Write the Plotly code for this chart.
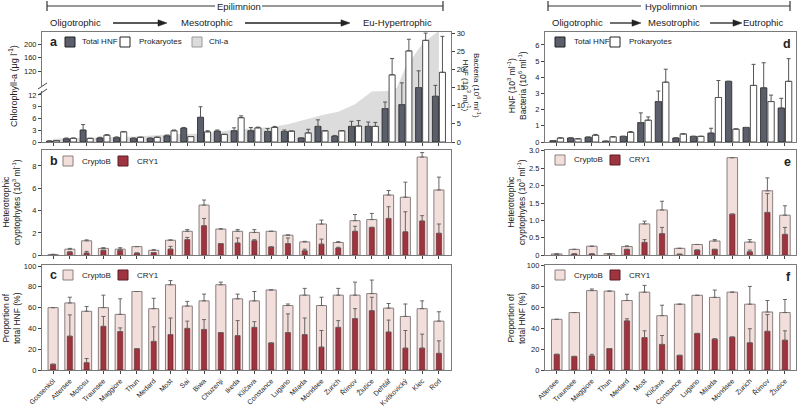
import plotly.graph_objects as go

W, H = 799, 407
def px(x): return x / W
def py(y): return 1 - y / H

FONT = "Liberation Sans, Arial, sans-serif"
FRAME = "#7a7a7a"
TICKC = "#444"

# ---------------- data ----------------
epi_lakes = ["Gossenköl", "Attersee", "Motosu", "Traunsee", "Maggiore", "Thun", "Medard", "Most",
             "Sai", "Biwa", "Chuzenji", "Ikeda", "Klíčava", "Constance", "Lugano", "Milada",
             "Mondsee", "Zurich", "Římov", "Žlutice", "Dehtář", "Kvítkovický", "Klec", "Rod"]
hypo_lakes = ["Attersee", "Traunsee", "Maggiore", "Thun", "Medard", "Most", "Klíčava", "Constance",
              "Lugano", "Milada", "Mondsee", "Zurich", "Římov", "Žlutice"]

# panel a (HNF 10^3/ml, prokaryotes 10^6/ml, chl-a ug/l)
hnf_epi = [0.25, 0.9, 3.3, 1.1, 1.2, 1.0, 1.0, 1.7, 3.8, 6.8, 3.0, 3.1, 3.1, 2.9, 2.9, 1.1,
           4.3, 1.6, 4.3, 4.3, 9.2, 10.3, 15.0, 12.6]
hnf_epi_sd = [None, 0.2, 1.5, 0.2, 0.2, 0.1, 0.1, 0.2, 0.2, 2.9, 0.3, 0.8, 0.9, 0.8, 0.4, None,
              1.8, 0.2, 1.4, 1.2, 1.8, 6.0, 4.6, 3.0]
prok_epi = [0.4, 1.0, 1.0, 1.9, 2.8, 1.3, 1.3, 3.1, 1.5, 2.8, 2.1, 6.7, 3.9, 4.0, 3.0, 2.5,
            3.1, 3.1, 4.4, 4.3, 18.5, 25.1, 28.0, 19.2]
prok_epi_sd = [None, 0.1, None, 0.1, 0.1, None, None, 0.2, None, 0.3, None, 0.5, 0.2, 0.3, None, 1.0,
               None, None, 1.5, 1.1, 4.5, 3.2, 2.0, 9.9]
chla_epi = [0.85, 1.0, 1.1, 1.2, 1.3, 1.4, 1.7, 2.0, 2.05, 2.2, 2.7, 3.2, 3.5, 3.8, 4.5, 5.6,
            6.8, 7.7, 9.6, 12.9, 13.0, 130, 200, 240]
chla_low_ticks = [0, 3, 6, 9, 12]
chla_high_ticks = [120, 160, 200]
bact_ticks = [0, 5, 10, 15, 20, 25, 30]

# panel b (10^3/ml)
cryb_epi = [0.08, 0.55, 1.3, 0.62, 0.55, 0.78, 0.45, 1.35, 2.15, 4.5, 2.35, 2.15, 2.05, 2.15, 1.8, 1.2,
            2.8, 1.15, 3.1, 3.2, 5.4, 5.2, 8.8, 5.85]
cryb_epi_sd = [None, 0.07, 0.08, 0.06, 0.13, None, 0.05, 0.03, 0.15, 0.45, 0.03, 0.15, 0.25, None, 0.02, 0.05,
               0.35, 0.07, 0.55, 0.55, 0.4, 1.35, 0.4, 1.15]
cry1_epi = [0.02, 0.3, 0.2, 0.45, 0.45, 0.2, 0.25, 0.55, 1.4, 2.65, 1.05, 1.1, 1.3, 0.75, 1.05, 0.4,
            1.0, 0.65, 2.15, 2.5, 3.3, 2.1, 3.07, 1.97]
cry1_epi_sd = [None, None, 0.15, None, None, None, None, 0.25, 0.2, 0.65, None, 0.45, 0.1, None, 0.5, 0.15,
               0.45, 0.07, 0.45, None, 1.05, 1.8, 0.48, 0.83]
b_ticks = [0, 2, 4, 6, 8]

# panel c (% of total HNF)
crybp_epi = [60, 64.5, 56.5, 60, 53.5, 75.5, 59, 82, 61.5, 66.5, 82, 68.5, 66.5, 77, 62, 72,
             62, 72, 72, 73.5, 59.5, 51.5, 59, 47]
crybp_epi_sd = [None, 5.5, 4.5, 12, 15, None, 10, 4, 4.5, 6.5, 2.5, 4.5, 9, None, 1.5, 6.5,
                8, 6.5, 12.5, 13, 4.5, 12, 7.5, 9]
cry1p_epi = [5.5, 32.5, 7, 42, 37, 20.5, 27.5, 34, 40, 39, 36, 33, 41, 26, 36, 34,
             22, 41, 49.5, 57, 36.5, 21, 21, 16]
cry1p_epi_sd = [None, 20.5, 4, 9.5, 3.5, None, 14, 16, 7, 9.5, None, 14.5, 5.5, None, 18, 16,
                16, 6.5, 9.5, 13, 11.5, 17, 13.5, 12]
pct_ticks = [0, 20, 40, 60, 80, 100]

# panel d
hnf_hyp = [0.08, 0.25, 0.3, 0.05, 0.35, 1.2, 2.5, 0.25, 0.35, 0.55, 3.75, 0.9, 3.35, 2.1]
hnf_hyp_sd = [None, None, None, None, None, 0.6, 0.65, None, None, 0.3, None, None, 1.55, 0.6]
prok_hyp = [0.25, 0.2, 0.42, 0.32, 0.6, 1.35, 3.7, 0.5, 0.35, 2.75, 0.8, 3.5, 2.5, 3.75]
prok_hyp_sd = [None, None, 0.05, None, 0.05, 0.2, 0.8, None, None, 1.05, None, 1.3, 0.4, 1.4]
d_ticks = [0, 1, 2, 3, 4, 5, 6]

# panel e
cryb_hyp = [0.04, 0.17, 0.26, 0.05, 0.25, 0.9, 1.3, 0.2, 0.31, 0.41, 2.8, 0.38, 1.85, 1.15]
cryb_hyp_sd = [None, None, None, None, 0.02, 0.08, 0.25, None, None, 0.04, None, 0.07, 0.37, 0.27]
cry1_hyp = [0.01, 0.04, 0.04, 0.01, 0.17, 0.37, 0.62, 0.03, 0.15, 0.17, 1.18, 0.1, 1.23, 0.6]
cry1_hyp_sd = [None, None, None, None, None, 0.08, 0.18, None, None, None, None, 0.05, 0.54, 0.2]
e_ticks = [0, 0.5, 1.0, 1.5, 2.0, 2.5, 3.0]
e_ticklabels = ["0", "0.5", "1.0", "1.5", "2.0", "2.5", "3.0"]

# panel f
crybp_hyp = [48.5, 55, 76, 75.5, 66.5, 74.5, 52, 63, 71.5, 69.5, 74.5, 63, 55.5, 55]
crybp_hyp_sd = [None, None, 1.5, None, 6, 6.5, 10, None, None, 7, None, 17, 11, 12.5]
cry1p_hyp = [15, 13, 13.5, 20.5, 47, 31, 24.5, 14, 35, 29.5, 31.5, 26, 37, 28.5]
cry1p_hyp_sd = [None, None, 1.5, None, 2, 6.5, 8.5, None, None, 0.5, None, 13.5, 16, 9]

# ---------------- styles ----------------
C_HNF = "#5b5f6b"
C_PROK = "#ffffff"
C_CHL = "#dcdcdc"
C_CRYB = "#f2dfdc"
C_CRY1 = "#9e3440"

def err(sd, color="#555"):
    return dict(type="data", symmetric=False, array=sd, arrayminus=[0] * len(sd),
                color=color, thickness=1, width=2)

fig = go.Figure()

# ---- panel a ----
fig.add_trace(go.Scatter(x=epi_lakes, y=chla_epi, xaxis="x", yaxis="y", mode="lines",
                         line=dict(width=0, color=C_CHL), fill="tozeroy", fillcolor=C_CHL,
                         showlegend=False, hoverinfo="skip"))
fig.add_trace(go.Scatter(x=epi_lakes, y=chla_epi, xaxis="x", yaxis="y2", mode="lines",
                         line=dict(width=0, color=C_CHL), fill="tozeroy", fillcolor=C_CHL,
                         showlegend=False, hoverinfo="skip"))
fig.add_trace(go.Bar(x=epi_lakes, y=hnf_epi, xaxis="x", yaxis="y3", offset=-0.39, width=0.36,
                     marker=dict(color=C_HNF, line=dict(color="#222", width=0.8)),
                     error_y=err(hnf_epi_sd), showlegend=False))
fig.add_trace(go.Bar(x=epi_lakes, y=prok_epi, xaxis="x", yaxis="y3", offset=0.03, width=0.36,
                     marker=dict(color=C_PROK, line=dict(color="#222", width=0.8)),
                     error_y=err(prok_epi_sd), showlegend=False))

# ---- panels b, c, e, f ----
def crypto(xn, yn, cats, cb, cb_sd, c1, c1_sd):
    fig.add_trace(go.Bar(x=cats, y=cb, xaxis=xn, yaxis=yn, width=0.6,
                         marker=dict(color=C_CRYB, line=dict(color="#8a7f7f", width=1)),
                         error_y=err(cb_sd, "#666"), showlegend=False))
    fig.add_trace(go.Bar(x=cats, y=c1, xaxis=xn, yaxis=yn, width=0.3,
                         marker=dict(color=C_CRY1, line=dict(color="#5a1e22", width=0.6)),
                         error_y=err(c1_sd, "#666"), showlegend=False))

crypto("x2", "y4", epi_lakes, cryb_epi, cryb_epi_sd, cry1_epi, cry1_epi_sd)
crypto("x3", "y5", epi_lakes, crybp_epi, crybp_epi_sd, cry1p_epi, cry1p_epi_sd)

# ---- panel d ----
fig.add_trace(go.Bar(x=hypo_lakes, y=hnf_hyp, xaxis="x4", yaxis="y6", offset=-0.39, width=0.36,
                     marker=dict(color=C_HNF, line=dict(color="#222", width=0.8)),
                     error_y=err(hnf_hyp_sd), showlegend=False))
fig.add_trace(go.Bar(x=hypo_lakes, y=prok_hyp, xaxis="x4", yaxis="y6", offset=0.03, width=0.36,
                     marker=dict(color=C_PROK, line=dict(color="#222", width=0.8)),
                     error_y=err(prok_hyp_sd), showlegend=False))

crypto("x5", "y7", hypo_lakes, cryb_hyp, cryb_hyp_sd, cry1_hyp, cry1_hyp_sd)
crypto("x6", "y8", hypo_lakes, crybp_hyp, crybp_hyp_sd, cry1p_hyp, cry1p_hyp_sd)

# ---------------- axes ----------------
TF = dict(family=FONT, size=7.5, color="#222")
LX = [px(42), px(451)]
RX = [px(545), px(796)]
A_Y = [py(142), py(32)]
B_Y = [py(255.3), py(150)]
C_Y = [py(370), py(265)]
BRK = 88

def xax(domain, anchor, cats, rng, labels):
    return dict(domain=domain, anchor=anchor, type="category", categoryorder="array",
                categoryarray=cats, range=rng, showline=True, mirror=True, linecolor=FRAME,
                linewidth=1.3, ticks="outside", ticklen=3, tickcolor=TICKC, tickwidth=0.8,
                showticklabels=labels, tickangle=-45, tickfont=dict(family=FONT, size=7, color="#222"),
                showgrid=False, zeroline=False, fixedrange=True, automargin=False)

def yax(domain, anchor, rng, tickvals, mirror=True, side="left", line=True, ticktext=None):
    d = dict(domain=domain, anchor=anchor, range=rng, tickvals=tickvals, showline=line,
             mirror=mirror, linecolor=FRAME, linewidth=1.3, ticks="outside", ticklen=3,
             tickcolor=TICKC, tickwidth=0.8, tickfont=TF, showgrid=False, zeroline=False,
             side=side, fixedrange=True, automargin=False)
    if ticktext:
        d["ticktext"] = ticktext
    return d

fig.update_layout(
    xaxis=xax(LX, "y3", epi_lakes, [-0.66, 23.72], False),
    xaxis2=xax(LX, "y4", epi_lakes, [-0.66, 23.72], False),
    xaxis3=xax(LX, "y5", epi_lakes, [-0.66, 23.72], True),
    xaxis4=xax(RX, "y6", hypo_lakes, [-0.67, 13.63], False),
    xaxis5=xax(RX, "y7", hypo_lakes, [-0.67, 13.63], False),
    xaxis6=xax(RX, "y8", hypo_lakes, [-0.67, 13.63], True),
    yaxis=yax([py(142), py(BRK)], "x", [0, (142 - BRK) / 3.92], chla_low_ticks, mirror=False, line=False),
    yaxis2=yax([py(BRK), py(32)], "x", [120 - (BRK - 71) * 2.963, 235.6], chla_high_ticks, mirror=False, line=False),
    yaxis3=yax(A_Y, "x", [0, 30.3], bact_ticks, mirror=True, side="right"),
    yaxis4=yax(B_Y, "x2", [0, 9.43], b_ticks),
    yaxis5=yax(C_Y, "x3", [0, 101], pct_ticks),
    yaxis6=yax(A_Y, "x4", [0, 6.8], d_ticks),
    yaxis7=yax(B_Y, "x5", [0, 3.02], e_ticks, ticktext=e_ticklabels),
    yaxis8=yax(C_Y, "x6", [0, 100.5], pct_ticks),
    barmode="overlay",
    width=W, height=H, margin=dict(l=0, r=0, t=0, b=0, pad=0),
    paper_bgcolor="white", plot_bgcolor="rgba(0,0,0,0)",
    font=dict(family=FONT, color="#222"),
)

shapes = []
ann = []

def text(x, y, s, size=9.5, xanchor="center", angle=0, bold=False, color="#222"):
    ann.append(dict(x=px(x), y=py(y), xref="paper", yref="paper", text=f"<b>{s}</b>" if bold else s,
                    showarrow=False, xanchor=xanchor, yanchor="middle", textangle=angle,
                    font=dict(family=FONT, size=size, color=color)))

def line(x0, y0, x1, y1, color="#333", width=1.2):
    shapes.append(dict(type="line", xref="paper", yref="paper", x0=px(x0), y0=py(y0),
                       x1=px(x1), y1=py(y1), line=dict(color=color, width=width)))

def arrow(x0, x1, y):
    line(x0, y, x1 - 5, y, color="#222", width=1.3)
    shapes.append(dict(type="path", xref="paper", yref="paper",
                       path=f"M {px(x1)} {py(y)} L {px(x1 - 9)} {py(y - 3.2)} L {px(x1 - 9)} {py(y + 3.2)} Z",
                       fillcolor="#222", line=dict(color="#222", width=0.5)))

def swatch(x, y, fill, edge):
    shapes.append(dict(type="rect", xref="paper", yref="paper", x0=px(x), x1=px(x + 10),
                       y0=py(y + 5), y1=py(y - 5), fillcolor=fill, line=dict(color=edge, width=1)))

# headers
line(47, 6, 215, 6); line(262, 6, 443, 6); line(47, 1, 47, 11); line(443, 1, 443, 11)
text(238.5, 6, "Epilimnion")
line(548, 6, 641, 6); line(700, 6, 790, 6); line(548, 1, 548, 11); line(790, 1, 790, 11)
text(670.5, 6, "Hypolimnion")
text(75, 23, "Oligotrophic"); arrow(113, 167, 23)
text(207, 23, "Mesotrophic"); arrow(245, 350, 23)
text(397, 23, "Eu-Hypertrophic")
text(577, 23, "Oligotrophic"); arrow(610, 641, 23)
text(674, 23, "Mesotrophic"); arrow(710, 742, 23)
text(763, 23, "Eutrophic")

# break marks on chlorophyll axis
shapes.append(dict(type="rect", xref="paper", yref="paper", x0=px(39), x1=px(46), y0=py(91), y1=py(86),
                   fillcolor="white", line=dict(width=0)))
line(38, 89, 47, 83, color="#444", width=1)
line(38, 95, 47, 89, color="#444", width=1)

# legends
LEG = 8
text(48, 42, "a", size=12.5, xanchor="left", bold=True)
swatch(65, 42, C_HNF, "#222"); text(80, 42, "Total HNF", LEG, "left")
swatch(120, 42, "white", "#222"); text(137, 42, "Prokaryotes", LEG, "left")
swatch(192, 42, C_CHL, "#999"); text(207, 42, "Chl-a", LEG, "left")

for ly, letter in [(161, "b"), (275, "c")]:
    text(48, ly, letter, size=12.5, xanchor="left", bold=True)
    swatch(63, ly, C_CRYB, "#8a7f7f"); text(80, ly, "CryptoB", LEG, "left")
    swatch(118, ly, C_CRY1, "#5a1e22"); text(135, ly, "CRY1", LEG, "left")

swatch(555, 42, C_HNF, "#222"); text(572, 42, "Total HNF", LEG, "left")
swatch(610, 42, "white", "#222"); text(627, 42, "Prokaryotes", LEG, "left")
text(793, 44, "d", size=12.5, xanchor="right", bold=True)
for ly, letter in [(160, "e"), (275, "f")]:
    swatch(555, ly, C_CRYB, "#8a7f7f"); text(572, ly, "CryptoB", LEG, "left")
    swatch(610, ly, C_CRY1, "#5a1e22"); text(627, ly, "CRY1", LEG, "left")
    text(793, ly + 2, letter, size=12.5, xanchor="right", bold=True)

# axis titles
TS = 8.5
text(13, 86, "Chlorophyll-a (μg l<sup>-1</sup>)", 9, angle=-90)
text(471, 86, "Bacteria (10<sup>6</sup> ml<sup>-1</sup>)<br>HNF (10<sup>3</sup> ml<sup>-1</sup>)", 8, angle=90)
text(11, 202, "Heterotrophic<br>cryptophytes (10<sup>3</sup> ml<sup>-1</sup>)", TS, angle=-90)
text(11, 318, "Proportion of<br>total HNF (%)", TS, angle=-90)
text(517, 86, "HNF (10<sup>3</sup> ml<sup>-1</sup>)<br>Bacteria (10<sup>6</sup> ml<sup>-1</sup>)", TS, angle=-90)
text(516, 202, "Heterotrophic<br>cryptophytes (10<sup>3</sup> ml<sup>-1</sup>)", TS, angle=-90)
text(516, 318, "Proportion of<br>total HNF (%)", TS, angle=-90)

fig.update_layout(shapes=shapes, annotations=ann)
fig.write_html("out.html", config={"displayModeBar": False},
               post_script="document.body.style.margin='0px';")
